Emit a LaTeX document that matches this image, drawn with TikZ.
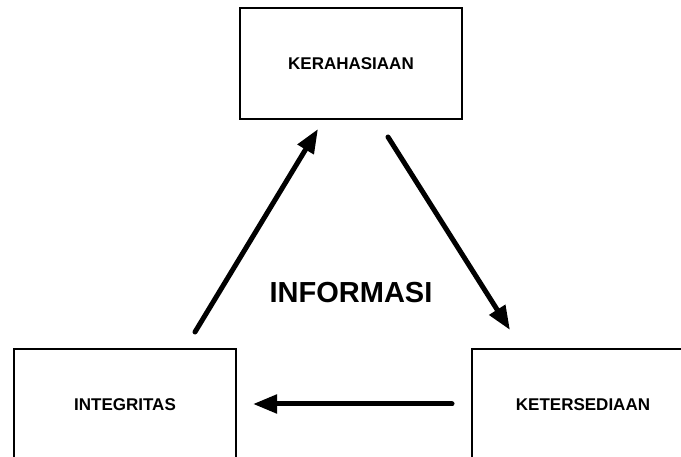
\documentclass[tikz,border=0pt]{standalone}
\usepackage{fontspec}
\setmainfont{Liberation Sans}
\usetikzlibrary{arrows.meta}
\begin{document}
\begin{tikzpicture}[x=1pt,y=-1pt,
  boxnode/.style={draw=black,line width=2pt,minimum width=222pt,minimum height=111pt,inner sep=0pt,font=\fontsize{17}{20}\selectfont\bfseries},
  bigarrow/.style={line width=5pt,line cap=round,-{Triangle[length=24pt,width=18pt]}}]
\useasboundingbox (0,0) rectangle (681,457);
\clip (0,0) rectangle (681,457);
\fill[white] (0,0) rectangle (681,457);
\node[boxnode] (ker) at (351,63.5) {KERAHASIAAN};
\node[boxnode] (int) at (125,404.5) {INTEGRITAS};
\node[boxnode] (ket) at (583,404.5) {KETERSEDIAAN};
\node[font=\fontsize{29}{32}\selectfont\bfseries] (info) at (351,293) {INFORMASI};
\coordinate (a1s) at (195,332);
\coordinate (a1e) at (318,129);
\coordinate (a2s) at (388,137);
\coordinate (a2e) at (510,330);
\coordinate (a3s) at (452,404);
\coordinate (a3e) at (253,404);
\draw[bigarrow] (a1s) -- (a1e);
\draw[bigarrow] (a2s) -- (a2e);
\draw[bigarrow] (a3s) -- (a3e);
\end{tikzpicture}
\end{document}
